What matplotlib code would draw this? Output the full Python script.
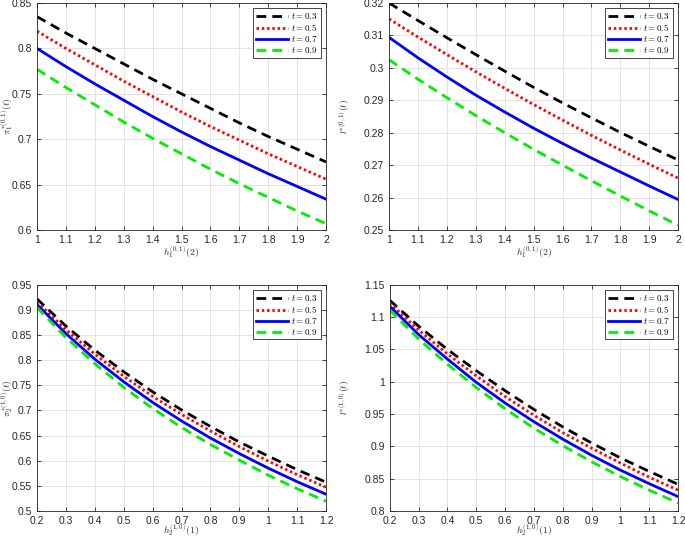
import numpy as np
import matplotlib
matplotlib.use('Agg')
import matplotlib.pyplot as plt

plt.rcParams['font.family'] = ['Liberation Sans', 'DejaVu Sans']
plt.rcParams['mathtext.fontset'] = 'cm'

# top panels: x = h_1^{(0,1)}(2)
x_top = [1.0, 1.1, 1.2, 1.3, 1.4, 1.5, 1.6, 1.7, 1.8, 1.9, 2.0]
pi1_t03 = [0.835, 0.817, 0.800, 0.783, 0.766, 0.750, 0.734, 0.718, 0.703, 0.689, 0.675]
pi1_t05 = [0.819, 0.800, 0.782, 0.764, 0.747, 0.730, 0.714, 0.699, 0.684, 0.670, 0.656]
pi1_t07 = [0.800, 0.780, 0.761, 0.743, 0.725, 0.708, 0.692, 0.677, 0.662, 0.648, 0.634]
pi1_t09 = [0.777, 0.757, 0.738, 0.719, 0.701, 0.684, 0.667, 0.651, 0.636, 0.621, 0.607]

l1_t03 = [0.3200, 0.3146, 0.3093, 0.3041, 0.2990, 0.2940, 0.2892, 0.2846, 0.2801, 0.2758, 0.2716]
l1_t05 = [0.3151, 0.3095, 0.3041, 0.2988, 0.2937, 0.2887, 0.2839, 0.2792, 0.2747, 0.2703, 0.2660]
l1_t07 = [0.3094, 0.3031, 0.2972, 0.2916, 0.2864, 0.2814, 0.2767, 0.2722, 0.2679, 0.2636, 0.2594]
l1_t09 = [0.3025, 0.2965, 0.2908, 0.2853, 0.2800, 0.2749, 0.2700, 0.2652, 0.2605, 0.2559, 0.2515]

# bottom panels: x = h_2^{(1,0)}(1)
x_bot = [0.2, 0.3, 0.4, 0.5, 0.6, 0.7, 0.8, 0.9, 1.0, 1.1, 1.2]
pi2_t03 = [0.922, 0.868, 0.820, 0.777, 0.737, 0.701, 0.668, 0.637, 0.609, 0.582, 0.557]
pi2_t05 = [0.916, 0.861, 0.812, 0.768, 0.728, 0.692, 0.659, 0.628, 0.599, 0.572, 0.547]
pi2_t07 = [0.911, 0.853, 0.802, 0.757, 0.716, 0.679, 0.645, 0.614, 0.585, 0.558, 0.533]
pi2_t09 = [0.905, 0.845, 0.793, 0.746, 0.704, 0.666, 0.632, 0.601, 0.571, 0.544, 0.519]

l2_t03 = [1.126, 1.086, 1.050, 1.017, 0.986, 0.957, 0.930, 0.905, 0.882, 0.861, 0.841]
l2_t05 = [1.122, 1.080, 1.043, 1.009, 0.977, 0.948, 0.921, 0.897, 0.874, 0.852, 0.832]
l2_t07 = [1.117, 1.073, 1.035, 0.999, 0.967, 0.938, 0.911, 0.886, 0.863, 0.842, 0.822]
l2_t09 = [1.111, 1.066, 1.027, 0.991, 0.958, 0.928, 0.901, 0.876, 0.853, 0.832, 0.812]

t_labels = ['$t = 0.3$', '$t = 0.5$', '$t = 0.7$', '$t = 0.9$']

styles = [
    dict(color='black', linestyle=(0, (3.5, 2.2))),
    dict(color='red', linestyle=(0, (0.9, 1.0))),
    dict(color='blue', linestyle='-'),
    dict(color='#00ee00', linestyle=(0, (3.5, 2.2))),
]

fig = plt.figure(figsize=(6.85, 5.4), dpi=100)

# rect, x, series, xlim, ylim, xticks, yticks, xlabel, ylabel, ylabel x, xlabel y
panels = [
    ([0.054, 0.574, 0.422, 0.4204], x_top, [pi1_t03, pi1_t05, pi1_t07, pi1_t09],
     (1, 2), (0.6, 0.85), np.arange(1, 2.01, 0.1), np.arange(0.6, 0.851, 0.05),
     r'$h_1^{(0,1)}(2)$', r'$\pi_1^{*(0,1)}(t)$', -0.075, -0.062),
    ([0.568, 0.574, 0.422, 0.4204], x_top, [l1_t03, l1_t05, l1_t07, l1_t09],
     (1, 2), (0.25, 0.32), np.arange(1, 2.01, 0.1), np.arange(0.25, 0.3201, 0.01),
     r'$h_1^{(0,1)}(2)$', r'$l^{*(0,1)}(t)$', -0.13, -0.062),
    ([0.054, 0.054, 0.422, 0.4185], x_bot, [pi2_t03, pi2_t05, pi2_t07, pi2_t09],
     (0.2, 1.2), (0.5, 0.95), np.arange(0.2, 1.201, 0.1), np.arange(0.5, 0.951, 0.05),
     r'$h_2^{(1,0)}(1)$', r'$\pi_2^{*(1,0)}(t)$', -0.076, -0.05),
    ([0.569, 0.054, 0.421, 0.4185], x_bot, [l2_t03, l2_t05, l2_t07, l2_t09],
     (0.2, 1.2), (0.8, 1.15), np.arange(0.2, 1.201, 0.1), np.arange(0.8, 1.151, 0.05),
     r'$h_2^{(1,0)}(1)$', r'$l^{*(1,0)}(t)$', -0.13, -0.05),
]

for rect, xs, series, xlim, ylim, xt, yt, xlab, ylab, ylx, xly in panels:
    ax = fig.add_axes(rect)
    for ys, st, lab in zip(series, styles, t_labels):
        ax.plot(xs, ys, lw=2, label=lab, **st)
    ax.set_xlim(*xlim)
    ax.set_ylim(*ylim)
    ax.set_xticks(xt)
    ax.set_yticks(yt)
    ax.set_xticklabels(['%g' % round(v, 2) for v in xt])
    ax.set_yticklabels(['%g' % round(v, 3) for v in yt])
    ax.grid(True, color='#e3e3e3', lw=0.7)
    ax.tick_params(direction='in', length=3, labelsize=7.5, colors='#262626',
                   top=True, right=True, width=0.6)
    for sp in ax.spines.values():
        sp.set_color('#262626')
        sp.set_linewidth(0.6)
    ax.set_xlabel(xlab, fontsize=7, color='#262626')
    ax.xaxis.set_label_coords(0.5, xly)
    ax.set_ylabel(ylab, fontsize=7, color='#262626')
    ax.yaxis.set_label_coords(ylx, 0.5)
    leg = ax.legend(loc='upper right', fontsize=6.5, handlelength=3.6, handletextpad=0.3,
                    borderpad=0.3, labelspacing=0.1, fancybox=False, framealpha=1,
                    borderaxespad=0.6)
    leg.get_frame().set_edgecolor('#262626')
    leg.get_frame().set_linewidth(0.6)

fig.savefig('out.png', dpi=100)
